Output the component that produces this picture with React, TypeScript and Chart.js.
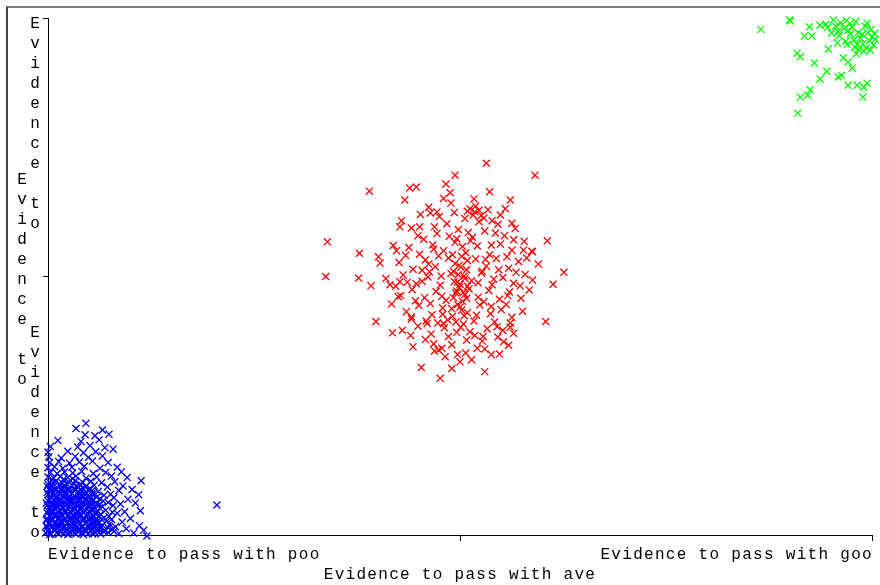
import React, { useEffect, useRef } from "react";
import { Chart, registerables } from "chart.js";

Chart.register(...registerables);

// ---- data ----
const tickValues = [0, 50, 100];
const xTickLabels = [
  "Evidence to pass with poo",
  "Evidence to pass with ave",
  "Evidence to pass with goo",
];
const yTickLabels = ["Evidence to", "Evidence to", "Evidence to"];

const bluePoints: number[][] = [
  [-0.3,0.4],[0.4,0.2],[1.1,0.5],[1.9,0.3],[2.6,0.6],[3.4,0.2],[4.1,0.4],[4.9,0.3],[5.6,0.6],[6.4,0.2],[7.3,0.5],[8.6,0.3],[10.4,0.4],[12.0,-0.2],
  [0.1,1.0],[0.8,1.2],[1.5,0.9],[2.3,1.1],[3.0,1.3],[3.8,0.9],[4.5,1.2],[5.3,1.0],[6.0,1.3],[6.9,0.9],[7.8,1.1],[9.5,1.2],
  [-0.2,1.8],[0.5,1.6],[1.2,1.9],[2.0,1.7],[2.7,2.0],[3.5,1.6],[4.2,1.8],[5.0,2.0],[5.8,1.7],[6.6,1.9],[8.2,1.6],[11.1,1.8],
  [0.2,2.5],[0.9,2.3],[1.7,2.6],[2.4,2.4],[3.1,2.7],[3.9,2.3],[4.7,2.5],[5.4,2.7],[6.2,2.4],[7.1,2.6],[9.0,2.5],
  [-0.1,3.2],[0.6,3.0],[1.3,3.3],[2.1,3.1],[2.8,3.4],[3.6,3.0],[4.4,3.2],[5.1,3.4],[5.9,3.1],[6.8,3.3],[7.7,3.0],[10.0,3.2],[11.6,0.9],
  [0.3,3.9],[1.0,4.1],[1.8,3.8],[2.5,4.0],[3.3,4.2],[4.0,3.9],[4.8,4.1],[5.5,3.8],[6.4,4.0],[8.4,4.2],
  [0.0,4.7],[0.7,4.5],[1.4,4.8],[2.2,4.6],[2.9,4.9],[3.7,4.5],[4.5,4.7],[5.2,4.9],[6.0,4.6],[7.0,4.8],[9.3,4.5],[11.2,4.7],
  [0.4,5.4],[1.1,5.6],[1.9,5.3],[2.6,5.5],[3.4,5.7],[4.1,5.4],[4.9,5.6],[5.7,5.3],[6.6,5.5],[7.9,5.7],[20.5,5.8],
  [-0.2,6.2],[0.5,6.0],[1.2,6.3],[2.0,6.1],[2.7,6.4],[3.5,6.0],[4.3,6.2],[5.0,6.4],[5.9,6.1],[7.3,6.3],[8.8,6.0],[10.6,6.2],
  [0.2,6.9],[0.9,7.1],[1.6,6.8],[2.4,7.0],[3.1,7.2],[3.9,6.9],[4.6,7.1],[5.5,6.8],[6.3,7.0],[8.0,7.2],[9.7,6.9],
  [0.0,7.8],[0.7,7.6],[1.4,7.9],[2.2,7.7],[2.9,8.0],[3.7,7.6],[4.5,7.8],[5.3,8.0],[6.8,7.7],[7.6,7.9],[11.0,7.8],
  [0.3,8.5],[1.0,8.7],[1.8,8.4],[2.5,8.6],[3.3,8.8],[4.1,8.5],[4.9,8.7],[6.1,8.4],[8.6,8.6],[10.2,8.8],
  [-0.1,9.4],[0.6,9.2],[1.4,9.5],[2.1,9.3],[2.9,9.6],[3.7,9.2],[4.6,9.4],[5.6,9.6],[7.2,9.3],[9.1,9.5],
  [0.2,10.2],[0.9,10.4],[1.7,10.1],[2.5,10.3],[3.3,10.5],[4.2,10.2],[5.2,10.4],[6.5,10.1],[8.1,10.3],[11.3,10.5],
  [0.0,11.2],[0.7,11.0],[1.5,11.3],[2.4,11.1],[3.4,11.4],[4.6,11.0],[5.9,11.2],[7.7,11.4],[9.6,11.1],
  [0.3,12.1],[1.1,11.9],[2.0,12.2],[3.0,12.0],[4.1,12.3],[5.5,11.9],[7.0,12.1],[8.9,12.2],
  [0.0,13.0],[0.8,13.2],[1.8,12.9],[2.9,13.1],[4.4,13.3],[6.3,12.9],[8.4,13.1],
  [0.2,14.0],[1.3,14.2],[2.6,13.9],[3.8,14.1],[5.4,14.3],[7.3,14.0],
  [0.1,15.1],[1.6,14.9],[3.3,15.2],[4.9,15.0],[6.6,15.3],
  [0.0,16.0],[2.4,16.2],[4.3,15.9],[5.8,16.1],[7.9,16.6],
  [0.3,17.1],[3.6,17.0],[5.1,17.3],[6.9,16.9],
  [1.2,18.3],[4.0,18.1],[6.2,18.4],
  [4.5,19.4],[5.7,19.2],[7.4,19.5],
  [3.4,20.6],[6.6,20.3],[4.6,21.6],
  [0.0,0.7],[0.8,0.8],[1.5,0.6],[2.2,0.8],[3.0,0.7],[3.7,0.6],[4.5,0.8],[5.2,0.7],[6.0,0.8],[6.8,0.6],[8.0,0.7],
  [-0.1,1.4],[0.4,1.5],[1.2,1.3],[1.9,1.5],[2.6,1.4],[3.4,1.3],[4.1,1.5],[4.9,1.4],[5.6,1.3],[6.3,1.5],[7.3,1.4],
  [0.1,2.1],[0.8,2.2],[1.5,2.0],[2.3,2.2],[3.0,2.1],[3.8,2.0],[4.5,2.2],[5.3,2.1],[6.0,2.2],[7.5,2.1],
  [-0.2,2.9],[0.5,2.8],[1.2,3.0],[2.0,2.8],[2.7,2.9],[3.5,2.8],[4.2,3.0],[5.0,2.9],[5.7,2.8],[6.5,3.0],
  [0.2,3.6],[0.9,3.5],[1.7,3.7],[2.4,3.6],[3.2,3.5],[3.9,3.7],[4.7,3.6],[5.5,3.5],[6.2,3.7],[7.4,3.6],
  [-0.1,4.3],[0.6,4.4],[1.3,4.3],[2.1,4.4],[2.8,4.3],[3.6,4.4],[4.3,4.3],[5.1,4.4],[5.9,4.3],[7.8,4.4],
  [0.2,5.1],[0.9,5.0],[1.7,5.2],[2.4,5.1],[3.2,5.0],[3.9,5.2],[4.7,5.1],[5.4,5.0],[6.3,5.2],
  [-0.1,5.8],[0.7,5.9],[1.5,5.8],[2.3,6.0],[3.0,5.9],[3.8,5.8],[4.6,5.9],[5.4,5.8],[6.3,5.9],
  [0.0,6.6],[0.8,6.7],[1.5,6.5],[2.3,6.7],[3.0,6.6],[3.8,6.5],[4.6,6.7],[5.3,6.6],[6.7,6.6],
  [0.3,7.4],[1.1,7.3],[1.9,7.5],[2.6,7.4],[3.4,7.3],[4.2,7.5],[5.0,7.4],[5.9,7.3],
  [-0.1,8.2],[0.6,8.1],[1.4,8.3],[2.1,8.2],[2.9,8.1],[3.7,8.3],[4.6,8.2],[5.6,8.1],
  [0.2,9.0],[0.9,8.9],[1.7,9.1],[2.5,9.0],[3.3,8.9],[4.2,9.1],[5.1,9.0],
  [0.0,9.8],[0.7,9.9],[1.5,9.7],[2.3,9.8],[3.1,9.9],[4.0,9.7],
  [0.2,0.1],[1.3,0.2],[2.4,0.1],[3.2,0.4],[4.3,0.1],[5.4,0.2],[6.2,0.5],
  [0.6,1.9],[1.7,1.2],[2.8,1.6],[3.9,1.2],[5.1,1.7],[6.2,1.1],
  [0.4,3.3],[1.5,2.7],[2.6,3.2],[3.7,2.6],[4.9,3.0],[5.9,2.6],
  [0.3,4.6],[1.6,4.1],[2.7,4.6],[3.8,4.1],[5.0,4.6],[5.8,4.0],
  [0.5,5.7],[1.6,6.2],[2.8,5.6],[4.0,6.1],[5.1,5.7],
  [0.4,7.2],[1.7,7.7],[2.8,7.1],[4.0,7.6],[5.2,7.1],
  [0.5,8.6],[1.6,8.7],[2.7,8.4],[3.9,8.8],[5.3,8.5],
  [0.4,9.6],[1.9,9.5],[3.5,9.5],[0.5,10.7],[1.9,10.8],[3.0,10.9],
];

const redPoints: number[][] = [
  [47.2,58.3],[49.8,59.1],[51.5,57.6],[53.0,58.8],[45.6,57.2],[55.4,57.9],[48.4,60.2],[52.3,60.6],[44.1,59.4],[50.6,61.2],
  [51.8,62.5],[52.6,61.8],[51.2,63.1],[53.4,62.9],[49.3,62.4],[47.5,61.6],[54.6,60.1],[56.7,59.3],[42.9,60.8],[46.2,63.4],
  [43.8,55.6],[45.1,54.3],[46.7,56.1],[48.0,55.0],[49.4,56.6],[50.7,54.6],[52.1,55.9],[53.6,54.2],[54.9,56.3],[56.3,55.1],
  [57.8,56.8],[41.9,56.0],[47.4,54.0],[51.3,56.9],[55.7,53.8],[58.7,54.9],
  [42.6,52.7],[44.3,51.4],[45.8,53.2],[47.0,51.9],[48.6,53.6],[49.9,52.2],[50.8,51.3],[51.9,53.4],[53.2,52.0],[54.4,53.5],
  [55.9,51.6],[57.1,52.9],[46.3,50.9],[50.2,53.9],[52.7,51.0],[56.8,50.8],[43.4,54.1],[59.5,52.4],
  [41.0,49.6],[43.1,50.3],[44.7,48.6],[46.1,49.9],[47.6,48.3],[48.9,50.6],[49.7,48.9],[50.5,50.1],[51.4,49.2],[52.6,50.7],
  [53.9,48.4],[55.2,49.8],[56.5,48.7],[57.9,50.4],[49.2,51.0],[50.9,48.1],[45.4,51.2],[54.7,51.3],[58.8,49.3],[42.2,48.1],
  [42.8,46.3],[44.2,47.5],[45.7,45.9],[47.1,47.1],[48.3,45.4],[49.5,46.8],[50.3,45.2],[51.1,47.6],[52.2,46.0],[53.5,47.3],
  [54.8,45.6],[56.0,47.0],[57.4,45.8],[49.9,47.9],[50.6,46.5],[46.4,44.8],[55.6,44.6],[58.4,47.4],
  [43.5,43.2],[45.0,44.4],[46.6,42.6],[47.9,43.9],[49.1,42.3],[50.0,44.1],[50.9,43.0],[52.4,44.5],[53.7,42.8],[55.0,43.6],
  [56.3,42.1],[44.1,41.8],[48.5,41.6],[51.7,41.4],[54.2,41.2],[57.6,43.3],[41.7,44.7],
  [43.0,39.6],[44.9,40.4],[46.5,38.9],[48.1,40.1],[49.6,39.2],[50.4,40.8],[51.8,38.6],[53.3,39.9],[54.6,38.3],[56.1,40.2],
  [45.8,37.8],[52.7,37.5],[47.3,41.0],
  [44.3,36.4],[46.9,35.6],[49.0,36.8],[50.7,35.2],[52.1,36.1],[53.8,34.9],[55.9,36.7],[48.2,34.5],[51.4,33.9],
  [53.2,71.9],[49.4,69.6],[59.1,69.6],[39.0,66.5],[43.9,67.1],[44.7,67.3],[43.3,64.8],[48.3,67.9],[48.8,66.2],[48.0,65.1],
  [53.6,66.4],[56.1,64.8],[33.9,56.7],[33.7,50.0],[37.8,54.5],[37.7,49.7],[39.2,48.2],[40.1,53.8],[40.3,52.6],[41.5,48.4],
  [39.8,41.3],[41.8,39.1],[60.6,56.9],[58.8,54.8],[62.6,50.8],[61.3,48.5],[60.4,41.3],[45.3,32.4],[47.6,30.3],[49.0,32.2],
  [50.0,33.5],[53.0,31.6],[54.8,35.0],[47.4,35.8],[47.8,36.1],[56.5,39.0],[55.3,37.4],
  [42.7,59.6],[45.1,59.6],[46.4,62.3],[47.2,62.5],[54.9,61.9],[56.3,60.3],[57.7,55.1],[56.5,57.1],[42.5,46.1],[42.7,49.0],
  [44.1,42.2],[46.0,40.9],[48.0,40.9],[54.5,40.3],[56.1,41.0],[50.8,37.7],[52.8,38.4],
  [49.6,57.3],[50.3,55.8],[49.1,54.2],[50.9,53.1],[49.4,52.5],[50.1,51.8],[49.8,50.4],[50.6,49.6],[49.3,49.0],[50.0,48.5],
  [49.6,47.2],[50.4,46.9],[49.2,45.9],[50.8,45.8],[49.7,44.6],[50.2,43.5],[49.0,43.8],[50.5,42.4],[49.5,41.2],[50.1,40.2],
  [51.6,61.9],[52.3,62.8],[51.9,63.6],[52.9,61.3],[50.9,62.6],
  [46.8,55.3],[53.8,56.1],[45.4,49.1],[54.1,49.5],[47.8,46.2],[52.9,45.1],[44.6,45.3],[55.8,46.3],[46.2,52.4],[53.1,53.3],
  [47.7,50.1],[52.2,48.8],[48.7,57.8],[51.0,58.5],[44.9,57.9],[54.3,58.4],[47.9,42.7],[52.0,42.5],[45.9,41.4],[53.8,44.2],
  [48.6,38.4],[51.2,39.3],[55.2,39.6],[44.0,38.6],[57.3,48.2],[43.6,48.9],[42.3,55.0],[58.1,53.6],[46.9,59.6],[53.9,60.8],
  [48.9,64.2],[51.7,65.0],[45.2,62.0],[55.5,63.1],[46.8,37.0],[53.0,36.0],[49.7,34.9],
];

const greenPoints: number[][] = [
  [86.5,97.8],[90.0,99.6],[90.1,99.4],[92.4,98.3],[91.8,96.5],[92.7,96.5],[93.7,98.6],[94.4,98.8],[94.6,98.2],[95.3,99.6],
  [95.6,98.4],[95.9,97.4],[96.2,99.1],[96.6,98.0],[96.9,99.5],[97.1,97.6],[97.3,98.9],[95.1,97.1],[96.0,96.6],[97.6,98.2],
  [98.0,99.3],[98.3,97.2],[99.4,99.0],[99.5,97.1],[99.2,98.4],[97.8,95.8],[98.2,94.9],[98.6,96.1],[98.9,95.0],[99.3,94.2],
  [99.7,95.6],[100.0,96.4],[100.2,94.8],[100.4,95.9],[98.4,93.9],[99.0,93.6],[99.8,93.8],[97.4,96.9],[98.8,96.8],[94.7,94.0],
  [95.8,95.2],[90.9,93.2],[91.3,92.5],[93.0,91.3],[94.5,89.7],[93.7,88.2],[96.5,92.3],[97.1,91.5],[97.6,90.3],[95.9,88.6],
  [96.3,88.9],[97.1,87.0],[98.2,87.0],[99.4,87.4],[99.0,86.6],[98.9,84.7],[91.3,84.7],[92.2,85.1],[92.5,86.1],[91.0,81.6],
  [96.8,95.5],[97.9,94.4],[99.9,97.8],[100.3,97.0],[97.0,94.9],[98.1,93.1],
];

const seriesColors = ["#0000ff", "#ff0000", "#00ff00"];

const FONT = '16px "Liberation Mono", "DejaVu Sans Mono", monospace';
const LINE_H = 20;

const tickLabelPlugin = {
  id: "tickLabelPlugin",
  afterDraw(chart: any) {
    const ctx = chart.ctx as CanvasRenderingContext2D;
    const xs = chart.scales.x;
    const ys = chart.scales.y;
    ctx.save();
    ctx.font = FONT;
    ctx.fillStyle = "#000";
    ctx.textBaseline = "alphabetic";
    try { (ctx as any).letterSpacing = "1.3px"; } catch (e) {}
    const nx = xs.ticks.length;
    xs.ticks.forEach((t: any, i: number) => {
      const label = xTickLabels[i] ?? "";
      const px = xs.getPixelForValue(t.value);
      const y = xs.top + 24 + (i % 2) * LINE_H;
      if (i === 0) { ctx.textAlign = "left"; ctx.fillText(label, px, y); }
      else if (i === nx - 1) { ctx.textAlign = "right"; ctx.fillText(label, px + 1, y); }
      else { ctx.textAlign = "center"; ctx.fillText(label, px, y); }
    });
    try { (ctx as any).letterSpacing = "0px"; } catch (e) {}
    ctx.textAlign = "center";
    const ny = ys.ticks.length;
    ys.ticks.forEach((t: any, i: number) => {
      const chars = (yTickLabels[i] ?? "").split("");
      const py = ys.getPixelForValue(t.value);
      const cx = ys.right - 13 - (i % 2) * 13;
      const n = chars.length;
      let first: number;
      if (i === 0) first = py + 2 - (n - 1) * LINE_H;
      else if (i === ny - 1) first = py + 10;
      else first = py - ((n - 1) * LINE_H) / 2 + 7;
      chars.forEach((c: string, k: number) => {
        if (c !== " ") ctx.fillText(c, cx, first + k * LINE_H);
      });
    });
    ctx.restore();
  },
};

export default function App() {
  const ref = useRef<HTMLCanvasElement | null>(null);
  useEffect(() => {
    if (!ref.current) return;
    const mk = (pts: number[][], color: string) => ({
      data: pts.map((p) => ({ x: p[0], y: p[1] })),
      pointStyle: "crossRot" as const,
      pointRadius: 5,
      pointHoverRadius: 5,
      borderWidth: 1.3,
      borderColor: color,
      backgroundColor: color,
      clip: false as any,
    });
    const chart = new Chart(ref.current, {
      type: "scatter",
      data: {
        datasets: [
          mk(bluePoints, seriesColors[0]),
          mk(redPoints, seriesColors[1]),
          mk(greenPoints, seriesColors[2]),
        ],
      },
      options: {
        animation: false,
        responsive: false,
        devicePixelRatio: 1,
        events: [],
        layout: { padding: { left: 8, top: 18, right: 8, bottom: 0 } },
        plugins: { legend: { display: false }, tooltip: { enabled: false } },
        scales: {
          x: {
            type: "linear",
            min: tickValues[0],
            max: tickValues[tickValues.length - 1],
            afterBuildTicks: (s: any) => { s.ticks = tickValues.map((v) => ({ value: v })); },
            ticks: { display: false },
            grid: { drawOnChartArea: false, drawTicks: true, tickLength: 6, color: "#000", lineWidth: 1 },
            border: { display: true, color: "#000", width: 1 },
            afterFit: (s: any) => { s.height = 50; },
          },
          y: {
            type: "linear",
            min: tickValues[0],
            max: tickValues[tickValues.length - 1],
            afterBuildTicks: (s: any) => { s.ticks = tickValues.map((v) => ({ value: v })); },
            ticks: { display: false },
            grid: { drawOnChartArea: false, drawTicks: true, tickLength: 5, color: "#000", lineWidth: 1 },
            border: { display: true, color: "#000", width: 1 },
            afterFit: (s: any) => { s.width = 40; },
          },
        },
      },
      plugins: [tickLabelPlugin],
    });
    return () => chart.destroy();
  }, []);
  return (
    <div style={{ position: "fixed", left: 0, top: 0, width: 880, height: 585, background: "#fff" }}>
      <canvas ref={ref} width={880} height={585} style={{ position: "absolute", left: 0, top: 0, width: 880, height: 585 }} />
      <div style={{ position: "absolute", left: 6, top: 6, width: 874, height: 579, borderLeft: "2px solid #444", borderTop: "2px solid #808080", pointerEvents: "none" }} />
    </div>
  );
}
